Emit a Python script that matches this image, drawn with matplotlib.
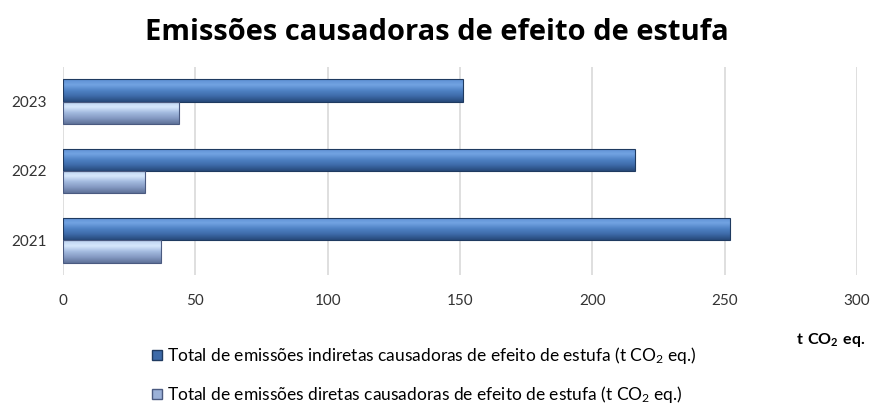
import numpy as np
import matplotlib
matplotlib.use("Agg")
import matplotlib.pyplot as plt
from matplotlib.colors import LinearSegmentedColormap
from matplotlib.patches import Patch

plt.rcParams['font.family'] = ['Lato', 'DejaVu Sans']
plt.rcParams['mathtext.fontset'] = 'custom'
plt.rcParams['mathtext.rm'] = 'Lato'
plt.rcParams['mathtext.bf'] = 'Lato:bold'
plt.rcParams['mathtext.default'] = 'regular'

# data
years = ['2021', '2022', '2023']
indirect = [252, 216, 151]
direct = [37, 31, 44]
x_ticks = [0, 50, 100, 150, 200, 250, 300]

label_ind = 'Total de emissões indiretas causadoras de efeito de estufa (t CO$_2$ eq.)'
label_dir = 'Total de emissões diretas causadoras de efeito de estufa (t CO$_2$ eq.)'

# gradient maps (bottom -> top)
cmap_ind = LinearSegmentedColormap.from_list(
    'ind', ['#27497a', '#3d6aa8', '#4f82c4', '#72a3e2', '#5d8fd3'])
cmap_dir = LinearSegmentedColormap.from_list(
    'dir', ['#5f7299', '#8499c2', '#a3badf', '#d6e8fc', '#bcd1f0'])

fig = plt.figure(figsize=(8.73, 4.07), dpi=100)
ax = fig.add_axes([63 / 873, 1 - 275 / 407, (857 - 63) / 873, (275 - 67) / 407])

y = np.arange(len(years))
h = 0.32
bars_ind = ax.barh(y + h / 2, indirect, height=h, color='#4f81bd',
                   edgecolor='#1f3a60', linewidth=0.8, zorder=3)
bars_dir = ax.barh(y - h / 2, direct, height=h, color='#9bb1d8',
                   edgecolor='#4a5a80', linewidth=0.8, zorder=3)

grad = np.linspace(0, 1, 64).reshape(-1, 1)
for bars, cmap in ((bars_ind, cmap_ind), (bars_dir, cmap_dir)):
    for p in bars:
        x0, y0 = p.get_x(), p.get_y()
        w, hh = p.get_width(), p.get_height()
        im = ax.imshow(grad, cmap=cmap, aspect='auto', origin='lower',
                       extent=(x0, x0 + w, y0, y0 + hh), zorder=3.5,
                       interpolation='bilinear')
        im.set_clip_path(p)
        p.set_facecolor('none')
        p.set_zorder(4)

ax.set_xlim(0, 300)
ax.set_ylim(-0.5, 2.5)
ax.set_xticks(x_ticks)
ax.set_yticks(y)
ax.set_yticklabels(years)
ax.tick_params(axis='both', length=0, labelsize=11, colors='#333333')
ax.tick_params(axis='x', pad=14)
ax.tick_params(axis='y', pad=12)
ax.xaxis.grid(True, color='#d9d9d9', linewidth=1.2, zorder=0)
ax.set_axisbelow(True)
for s in ax.spines.values():
    s.set_visible(False)

fig.text(437 / 873, 1 - 33 / 407, 'Emissões causadoras de efeito de estufa',
         ha='center', va='center', fontsize=21, fontweight='bold',
         family=['Open Sans', 'DejaVu Sans'])

fig.text(866 / 873, 1 - 340 / 407, r'$\mathbf{t\ CO_2\ eq.}$', ha='right',
         va='center', fontsize=11.5)

handles = [Patch(facecolor='#3d6aa8', edgecolor='#1f3a60'),
           Patch(facecolor='#9bb1d8', edgecolor='#4a5a80')]
fig.legend(handles, [label_ind, label_dir], loc='upper left',
           bbox_to_anchor=(152 / 873, 1 - 345 / 407), frameon=False,
           fontsize=12.5, handlelength=0.55, handleheight=0.55, handletextpad=0.3,
           labelspacing=1.05, borderpad=0, borderaxespad=0)

fig.savefig('out.png', dpi=100)
